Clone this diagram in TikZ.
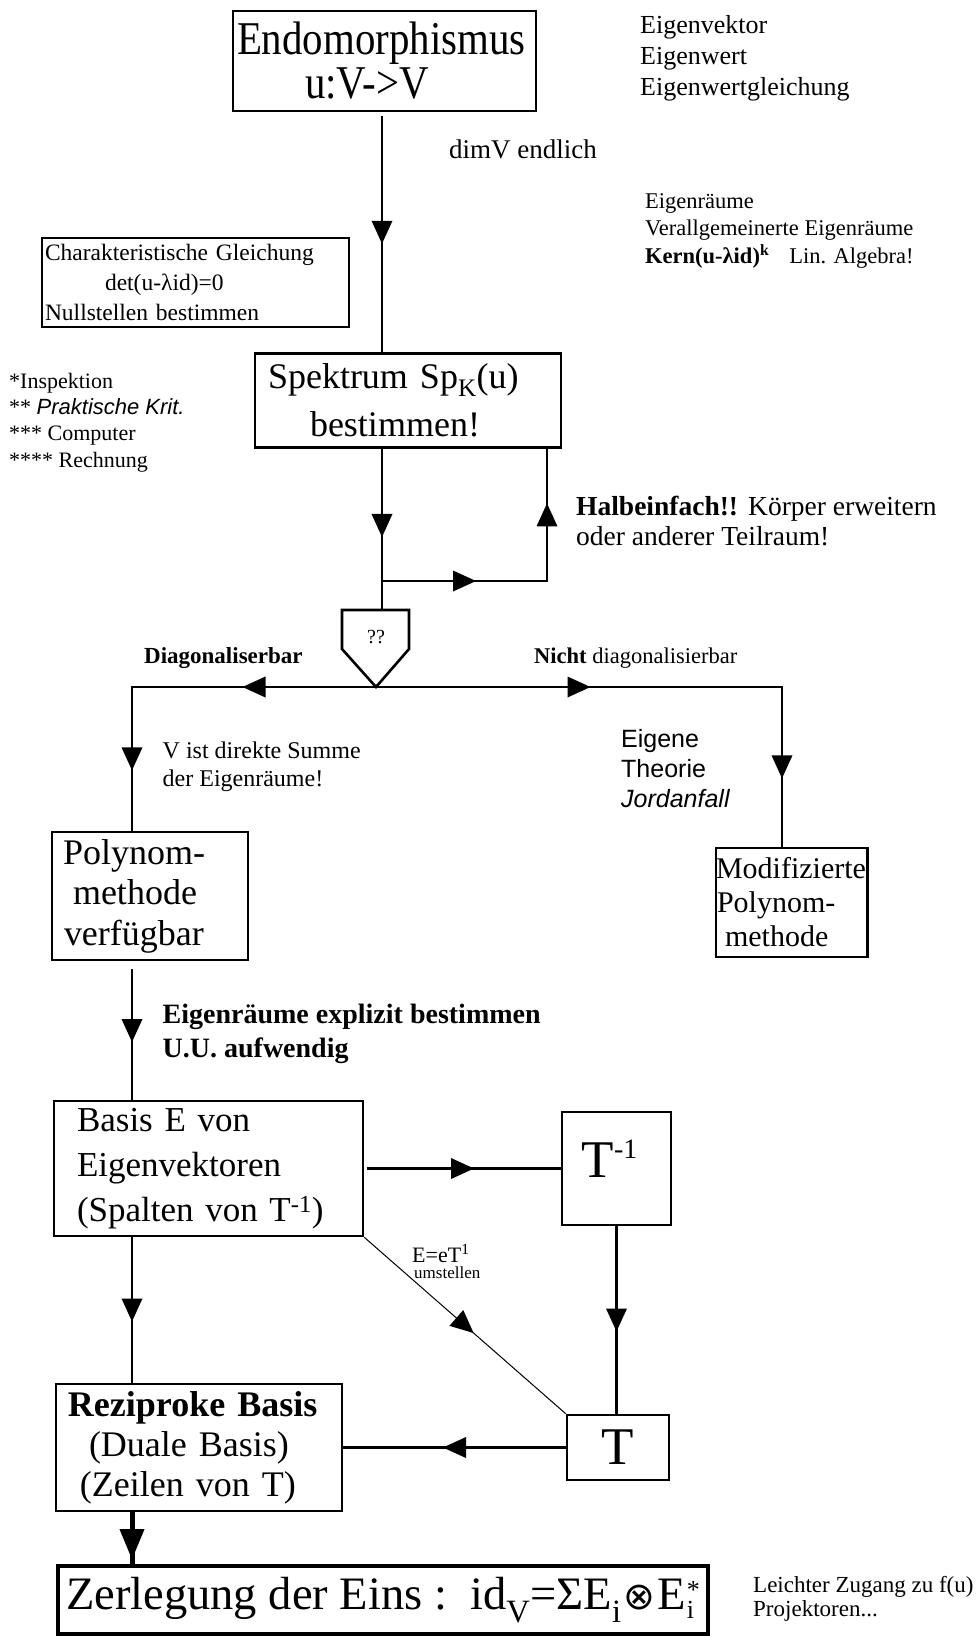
\documentclass[tikz,border=0pt]{standalone}
\usepackage{fontspec}
\setmainfont{Liberation Serif}
\newfontfamily\lsans{Liberation Sans}
\newfontfamily\dvsans{DejaVu Sans}
\newfontfamily\condserif{Liberation Serif}[FakeStretch=0.87]
\usetikzlibrary{decorations.markings}
\newcommand{\fsz}[2]{\fontsize{#1}{#2}\selectfont}
\newcommand{\fl}{\rule{0pt}{0.75em}}
\tikzset{
  box/.style={draw, line width=2.6pt, rectangle, inner sep=0pt},
  mbox/.style={box, align=left},
  conn/.style={line width=2.6pt, line cap=rect},
  txt/.style={inner sep=0pt, anchor=north west, align=left},
  marr/.style={postaction={decorate}, decoration={markings, mark=at position #1 with {\fill (11.5pt,0pt) -- (-11.5pt,10.5pt) -- (-11.5pt,-10.5pt) -- cycle;}}},
  marr/.default=0.5,
  bigarr/.style={postaction={decorate}, decoration={markings, mark=at position #1 with {\fill (15pt,0pt) -- (-15pt,12.5pt) -- (-15pt,-12.5pt) -- cycle;}}},
}
\begin{document}
\begin{tikzpicture}[x=1pt,y=-1pt]
\path[fill=white,use as bounding box] (0,0) rectangle (979,1636);

% ---------- boxes ----------
\node[mbox, minimum width=303pt, minimum height=100pt, text width=303pt, font=\condserif\fsz{47}{44}] (endo) at (384.5,61)
  {\hspace*{4pt}Endomorphismus\\\hspace*{72pt}u:V->V};
\node[mbox, line width=1.3pt, minimum width=307pt, minimum height=89pt, text width=307pt, font=\fsz{23.5}{30}] (char) at (195.5,282.5)
  {\hspace*{3pt}Charakteristische Gleichung\\\hspace*{63pt}det(u-λid)=0\\\hspace*{3pt}Nullstellen bestimmen};
\node[mbox, minimum width=306pt, minimum height=94pt, text width=306pt, font=\fsz{36}{48}] (spek) at (408,400.5)
  {\hspace*{13pt}Spektrum Sp\textsubscript{K}(u)\\\hspace*{55pt}bestimmen!};
\node[mbox, minimum width=196pt, minimum height=128pt, text width=196pt, font=\fsz{36}{40.5}] (poly) at (150,896)
  {\hspace*{11pt}Polynom-\\\hspace*{21pt}methode\\\hspace*{12pt}verfügbar};
\node[mbox, minimum width=151.5pt, minimum height=109pt, text width=151.5pt, font=\fsz{30}{34}] (modi) at (791.75,902.5)
  {Modifizierte\\\hspace*{1pt}Polynom-\\\hspace*{9pt}methode};
\node[mbox, minimum width=309pt, minimum height=135pt, text width=309pt, font=\fsz{35}{45}] (basis) at (208.5,1168.5)
  {\hspace*{23pt}Basis E von\\\hspace*{23pt}Eigenvektoren\\\hspace*{23pt}(Spalten von T\textsuperscript{-1})};
\node[box, minimum width=109pt, minimum height=113pt, text height=40pt, text depth=23pt, font=\fsz{53}{53}] (tinv) at (616.5,1168.5)
  {T\raisebox{19pt}{\fsz{28}{28}-1}\hspace*{14pt}};
\node[box, minimum width=102pt, minimum height=65pt, font=\fsz{53}{53}] (t) at (618,1447.5) {T};
\node[mbox, minimum width=286pt, minimum height=127pt, text width=286pt, font=\fsz{36}{40}] (rezi) at (199,1447.5)
  {\hspace*{12pt}\textbf{Reziproke Basis}\\\hspace*{33pt}(Duale Basis)\\\hspace*{24pt}(Zeilen von T)};
\node[box, line width=4.5pt, minimum width=650pt, minimum height=68pt, font=\fsz{46.5}{50}] (zerl) at (383,1600)
  {Zerlegung der Eins :\ \ id\textsubscript{V}=ΣE\textsubscript{i}\kern2pt{\dvsans\fsz{38}{38}⊗}\kern2pt E\kern1pt\raisebox{-9pt}{\fsz{26}{36}\shortstack[l]{*\\i}}};

% ---------- free texts ----------
\node[txt, font=\fsz{26}{31}] (eig) at (640,13.5) {\fl Eigenvektor\\Eigenwert\\Eigenwertgleichung};
\node[txt, font=\fsz{27}{30}] (dim) at (449,138) {\fl dimV endlich};
\node[txt, font=\fsz{22.5}{27.5}] (eigr) at (645,191) {\fl Eigenräume\\Verallgemeinerte Eigenräume\\\textbf{Kern(u-λid)\textsuperscript{k}}\hspace{20pt}Lin. Algebra!};
\node[txt, font=\fsz{22}{26.3}] (insp) at (9,371.5) {\fl *Inspektion\\{}** {\lsans\itshape Praktische Krit.}\\{}*** Computer\\{}**** Rechnung};
\node[txt, font=\fsz{27.5}{30}] (halb) at (576,494.4) {\fl\textbf{Halbeinfach!!}\hspace{10pt}Körper erweitern\\oder anderer Teilraum!};
\node[txt, font=\fsz{23}{26}] (diag) at (144,645.75) {\fl\textbf{Diagonaliserbar}};
\node[txt, font=\fsz{22.5}{26}] (nicht) at (534,646) {\fl\textbf{Nicht} diagonalisierbar};
\node[txt, font=\fsz{24}{28}] (vsum) at (162.5,740) {\fl V ist direkte Summe\\der Eigenräume!};
\node[txt, font=\lsans\fsz{25}{30}] (eigene) at (621,729) {\fl Eigene\\Theorie\\\textit{Jordanfall}};
\node[txt, font=\bfseries\fsz{28}{34}] (expl) at (162.5,1002) {\fl Eigenräume explizit bestimmen\\U.U. aufwendig};
\node[txt, font=\fsz{22}{22}] (lbl) at (412,1244.5) {\fl E=eT\textsuperscript{1}};
\node[txt, font=\fsz{17}{17}] (lbl2) at (414,1266) {\fl umstellen};
\node[txt, font=\fsz{23}{24}] (leicht) at (753,1574.75) {\fl Leichter Zugang zu f(u)\\Projektoren...};

% ---------- connectors ----------
\coordinate (j1) at (382,581);
\coordinate (j2) at (547,581);
\coordinate (qtop) at (382,610);
\coordinate (qtip) at (376,687);
\coordinate (L) at (132,687);
\coordinate (R) at (782,687);

\draw[conn,marr,shorten <=5pt] (endo.south -| j1) -- (j1 |- spek.north);
\draw[conn,marr=0.58] (j1 |- spek.south) -- (j1);
\draw[conn,marr] (j1) -- (j2);
\draw[conn,marr] (j2) -- (j2 |- spek.south);
\draw[conn] (j1) -- (qtop);
\draw[line width=2.6pt, line join=miter] (342,610) -- (409,610) -- (409,649) -- (qtip) -- (342,649) -- cycle;
\node[inner sep=0pt, font=\fsz{20}{20}] (q) at (376,637) {??};
\draw[conn,marr] (qtip) -- (L);
\draw[conn,marr] (qtip) -- (R);
\draw[conn,marr] (L) -- (L |- poly.north);
\draw[conn,marr] (R) -- (R |- modi.north);
\draw[conn,marr,shorten <=9pt] (L |- poly.south) -- (L |- basis.north);
\draw[conn,marr,shorten <=4pt] (basis.east) -- (tinv.west);
\draw[conn,marr] (tinv.south) -- (tinv.south |- t.north);
\draw[line width=1pt,marr] (basis.south east) -- (t.north west);
\draw[conn,marr] (L |- basis.south) -- (L |- rezi.north);
\draw[conn,marr] (t.west) -- (t.west -| rezi.east);
\draw[line width=5pt,bigarr=0.62] (L |- rezi.south) -- (L |- zerl.north);
\end{tikzpicture}
\end{document}
